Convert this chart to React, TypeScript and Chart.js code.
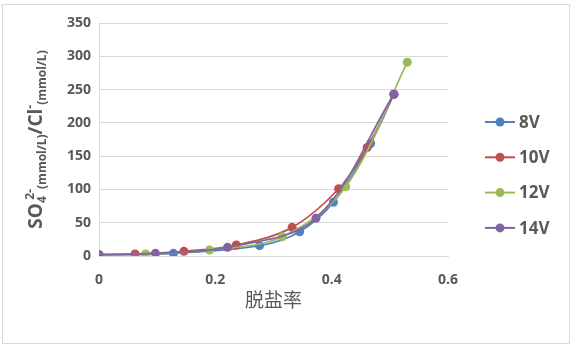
import React, { useEffect, useRef } from "react";
import { Chart, registerables } from "chart.js";

Chart.register(...registerables);

const seriesNames = ["8V", "10V", "12V", "14V"];
const seriesColors = ["#4F81BD", "#C0504D", "#9BBB59", "#8064A2"];

const x8V = [0, 0.128, 0.276, 0.345, 0.403, 0.467, 0.507];
const y8V = [2, 4, 15.5, 36.5, 80.7, 169, 243];

const x10V = [0, 0.062, 0.146, 0.236, 0.332, 0.412, 0.461, 0.507];
const y10V = [2, 3, 7, 16.5, 43, 101, 163, 243];

const x12V = [0, 0.08, 0.19, 0.315, 0.424, 0.53];
const y12V = [2, 3, 9, 29, 104, 291];

const x14V = [0, 0.097, 0.221, 0.373, 0.507];
const y14V = [2, 4, 13, 56.7, 243];

const xTicks = [0, 0.2, 0.4, 0.6];
const yTicks = [0, 50, 100, 150, 200, 250, 300, 350];
const xTitle = "脱盐率";

const FONT = '"Open Sans", "Noto Sans CJK SC", sans-serif';
const TXT = "#595959";

const toPts = (xs: number[], ys: number[]) => xs.map((x, i) => ({ x, y: ys[i] }));

export default function App() {
  const ref = useRef<HTMLCanvasElement | null>(null);
  useEffect(() => {
    const canvas = ref.current!;
    const allX = [x8V, x10V, x12V, x14V];
    const allY = [y8V, y10V, y12V, y14V];

    const titlePlugin = {
      id: "customText",
      afterDraw(chart: any) {
        const ctx = chart.ctx as CanvasRenderingContext2D;
        const area = chart.chartArea;
        // x title
        ctx.save();
        ctx.fillStyle = TXT;
        ctx.font = `19px ${FONT}`;
        ctx.textAlign = "center";
        ctx.textBaseline = "middle";
        ctx.fillText(xTitle, (area.left + area.right) / 2, 302);
        ctx.restore();

        // y title with sub/superscripts
        const segs: { t: string; k: "m" | "sub" | "sup"; back?: number }[] = [
          { t: "SO", k: "m" },
          { t: "4", k: "sub" },
          { t: "2-", k: "sup", back: 0.5 },
          { t: "(mmol/L)", k: "sub" },
          { t: "/Cl", k: "m" },
          { t: "-", k: "sup" },
          { t: "(mmol/L)", k: "sub" },
        ];
        const fontFor = (k: string) => (k === "m" ? `bold 19px ${FONT}` : `bold 12px ${FONT}`);
        ctx.save();
        const widths: number[] = [];
        const offsets: number[] = [];
        let pos = 0;
        segs.forEach((s, i) => {
          ctx.font = fontFor(s.k);
          const w = ctx.measureText(s.t).width;
          widths.push(w);
          if (s.back && i > 0) pos -= widths[i - 1] * s.back;
          offsets.push(pos);
          pos += w;
        });
        const total = pos;
        ctx.translate(42, (area.top + area.bottom) / 2);
        ctx.rotate(-Math.PI / 2);
        ctx.fillStyle = TXT;
        ctx.textBaseline = "alphabetic";
        ctx.textAlign = "left";
        segs.forEach((s, i) => {
          ctx.font = fontFor(s.k);
          const dy = s.k === "sub" ? 4 : s.k === "sup" ? -8 : 0;
          ctx.fillText(s.t, -total / 2 + offsets[i], dy);
        });
        ctx.restore();

        // legend
        ctx.save();
        const ys0 = 122;
        const step = 35.3;
        seriesNames.forEach((name, i) => {
          const yy = ys0 + i * step;
          ctx.strokeStyle = seriesColors[i];
          ctx.lineWidth = 2;
          ctx.beginPath();
          ctx.moveTo(485, yy);
          ctx.lineTo(515, yy);
          ctx.stroke();
          ctx.fillStyle = seriesColors[i];
          ctx.beginPath();
          ctx.arc(500, yy, 4.5, 0, Math.PI * 2);
          ctx.fill();
          ctx.fillStyle = TXT;
          ctx.font = `bold 17px ${FONT}`;
          ctx.textAlign = "left";
          ctx.textBaseline = "middle";
          ctx.fillText(name, 519, yy + 1);
        });
        ctx.restore();
      },
    };

    const chart = new Chart(canvas, {
      type: "line",
      data: {
        datasets: seriesNames.map((name, i) => ({
          label: name,
          data: toPts(allX[i], allY[i]),
          borderColor: seriesColors[i],
          backgroundColor: seriesColors[i],
          pointBackgroundColor: seriesColors[i],
          pointBorderColor: seriesColors[i],
          pointRadius: 4.5,
          pointBorderWidth: 0,
          borderWidth: 1.75,
          tension: 0.35,
          fill: false,
          order: 4 - i,
        })),
      },
      options: {
        animation: false,
        responsive: false,
        devicePixelRatio: 1,
        layout: { padding: { left: 0, top: 23, right: 125, bottom: 0 } },
        plugins: {
          legend: { display: false },
          tooltip: { enabled: false },
        },
        scales: {
          x: {
            type: "linear",
            min: 0,
            max: 0.6,
            afterBuildTicks: (s: any) => {
              s.ticks = xTicks.map((v) => ({ value: v }));
            },
            afterFit: (s: any) => {
              s.height = 90;
            },
            grid: { display: false, drawTicks: false },
            border: { display: true, color: "#D9D9D9", width: 1 },
            ticks: {
              padding: 16,
              color: TXT,
              font: { family: FONT, size: 14, weight: "bold" },
              maxRotation: 0,
              callback: (v: any) => String(v),
            },
          },
          y: {
            type: "linear",
            min: 0,
            max: 350,
            afterBuildTicks: (s: any) => {
              s.ticks = yTicks.map((v) => ({ value: v }));
            },
            afterFit: (s: any) => {
              s.width = 99;
            },
            grid: { color: "#D9D9D9", drawTicks: false, lineWidth: 1 },
            border: { display: true, color: "#D9D9D9", width: 1 },
            ticks: {
              padding: 8,
              color: TXT,
              font: { family: FONT, size: 14, weight: "bold" },
            },
          },
        },
      },
      plugins: [titlePlugin],
    } as any);
    return () => chart.destroy();
  }, []);

  return (
    <div>
      <canvas
        ref={ref}
        width={573}
        height={346}
        style={{ position: "fixed", left: 0, top: 0, width: 573, height: 346 }}
      />
      <div
        style={{
          position: "fixed",
          left: 2,
          top: 4,
          width: 568,
          height: 340,
          border: "1px solid #D9D9D9",
          boxSizing: "border-box",
          pointerEvents: "none",
        }}
      />
    </div>
  );
}
